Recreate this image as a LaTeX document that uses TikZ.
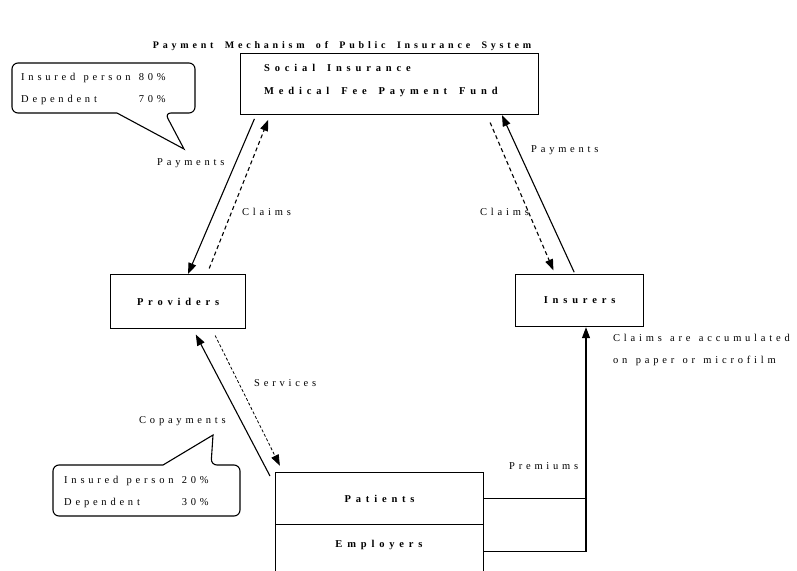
\documentclass[tikz,border=0pt]{standalone}
\usepackage{fontspec}
\setmainfont{Liberation Serif}
\newfontfamily\spaced[LetterSpace=36,WordSpace=1.3]{Liberation Serif}
\newfontfamily\spacedb[LetterSpace=46,WordSpace=1.6]{Liberation Serif}
\newfontfamily\spacedt[LetterSpace=38,WordSpace=1.8]{Liberation Serif}
\usetikzlibrary{arrows.meta}
\tikzset{
    box/.style = {rectangle, draw=black, line width=1.2pt, inner sep=0pt},
    boxtext/.style = {font=\spacedb\bfseries\fontsize{10.5}{23}\selectfont, align=left, inner sep=0pt},
    lbl/.style = {font=\spaced\fontsize{10.5}{21.5}\selectfont, inner sep=0pt, anchor=west, align=left},
    callout/.style = {draw=black, line width=1.1pt, rounded corners=6pt},
    edgep/.style = {-{Triangle[length=11pt,width=8pt]}, line width=1.1pt}, % payments
    edgec/.style = {-{Triangle[length=11pt,width=8pt]}, line width=1.1pt, dash pattern=on 4pt off 3pt}, % claims
    edges/.style = {-{Triangle[length=11pt,width=8pt]}, line width=0.8pt, dash pattern=on 3pt off 2pt} % services
}
\begin{document}
\begin{tikzpicture}[x=1pt, y=-1pt]
    \useasboundingbox (0,0) rectangle (797,570);
    \clip (0,0) rectangle (797,570);

    \node[font=\spacedt\bfseries\fontsize{10}{12}\selectfont] (title) at (342,46)
        {Payment Mechanism of Public Insurance System};

    % boxes
    \node[box, minimum width=298, minimum height=61, anchor=north west] (fund) at (240,53) {};
    \node[boxtext, anchor=west] (fundtxt) at (264,80) {Social Insurance\\Medical Fee Payment Fund};
    \node[box, boxtext, minimum width=135, minimum height=54, anchor=north west] (prov) at (110,274) {Providers};
    \node[box, boxtext, minimum width=128, minimum height=52, anchor=north west] (ins) at (515,274) {Insurers};
    \node[box, boxtext, minimum width=208, minimum height=52, anchor=north west] (pat) at (275,472) {Patients};
    \node[box, minimum width=208, minimum height=60, anchor=north west] (emp) at (275,524) {};
    \node[boxtext] (emptxt) at (379,545) {Employers};

    % callouts
    \draw[callout] (117,113) -- (12,113) -- (12,63) -- (195,63) -- (195,113) -- (165,113)
        [sharp corners] -- (184,149) -- cycle;
    \node[lbl] (co1) at (21,87) {\begin{tabular}{@{}l@{}l@{}}Insured person&\ 80\%\\Dependent&\ 70\%\end{tabular}};
    \draw[callout] (163,465) -- (53,465) -- (53,516) -- (240,516) -- (240,465) -- (211,465)
        [sharp corners] -- (213,435) -- cycle;
    \node[lbl] (co2) at (64,490) {\begin{tabular}{@{}l@{}l@{}}Insured person&\ 20\%\\Dependent&\ 30\%\end{tabular}};

    % fund <-> providers
    \draw[edgep, shorten <=4pt] ([xshift=16pt]fund.south west) -- ([xshift=78pt]prov.north west);
    \draw[edgec, shorten <=6pt, shorten >=5pt] ([xshift=97pt]prov.north west) -- ([xshift=30pt]fund.south west);
    \node[lbl] (payl) at (157,163) {Payments};
    \node[lbl] (claiml) at (242,212) {Claims};

    % fund <-> insurers
    \draw[edgec, shorten <=8pt, shorten >=4pt] ([xshift=247pt]fund.south west) -- ([xshift=40pt]ins.north west);
    \draw[edgep, shorten <=2pt] ([xshift=60pt]ins.north west) -- ([xshift=262pt]fund.south west);
    \node[lbl] (payr) at (531,150) {Payments};
    \node[lbl] (claimr) at (480,212) {Claims};

    % providers <-> patients
    \draw[edgep, shorten >=6pt] ([xshift=-5pt,yshift=-4pt]pat.north west) -- ([xshift=83pt]prov.south west);
    \draw[edges, shorten <=7pt, shorten >=7pt] ([xshift=102pt]prov.south west) -- ([xshift=8pt]pat.north west);
    \node[lbl] (serv) at (254,383) {Services};
    \node[lbl] (copay) at (139,421) {Copayments};

    % premiums
    \coordinate (prem) at (586,551.5);
    \draw[line width=1.1pt] (pat.east) -- (pat.east -| prem);
    \draw[edgep] (emp.east |- prem) -- (prem) -- (prem |- ins.south);
    \node[lbl] (premlbl) at (509,466) {Premiums};
    \node[lbl] (note) at (613,350) {Claims are accumulated\\on paper or microfilm};
\end{tikzpicture}
\end{document}
